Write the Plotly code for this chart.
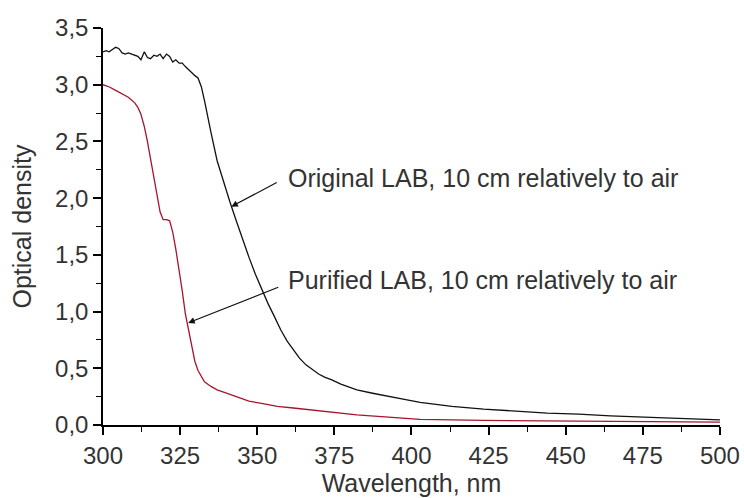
import plotly.graph_objects as go

# Absorption spectra of LAB, 10 cm cell, measured against air
wl_original = [300, 301, 302, 303.1, 304.1, 305.1, 306.2, 307.2, 308.2, 309.3, 310.3,
               311.3, 312.3, 313.4, 314.4, 315.4, 316.5, 317.5, 318.5, 319.5, 320.6,
               321.6, 322.6, 323.6, 324.7, 325.7, 326.7, 327.8, 328.8, 329.8, 330.8,
               331.9, 332.9, 333.9, 335.0, 337.0, 339.1, 341.1, 343.2, 345.2, 347.3,
               349.4, 351.4, 353.5, 355.5, 357.6, 359.7, 361.7, 363.7, 365.8, 367.9,
               369.9, 372.0, 374.0, 377.1, 382.3, 387.4, 392.5, 397.7, 402.8, 413.1,
               423.4, 428.5, 433.7, 444.0, 454.2, 464.5, 479.9, 495.4, 500]
od_original = [3.29, 3.30, 3.29, 3.31, 3.33, 3.32, 3.28, 3.27, 3.28, 3.27, 3.26, 3.25,
               3.22, 3.29, 3.24, 3.23, 3.26, 3.25, 3.27, 3.23, 3.27, 3.25, 3.20, 3.22,
               3.19, 3.19, 3.16, 3.13, 3.11, 3.08, 3.06, 2.98, 2.86, 2.72, 2.58, 2.33,
               2.14, 1.97, 1.80, 1.64, 1.48, 1.33, 1.20, 1.07, 0.96, 0.84, 0.74, 0.66,
               0.59, 0.53, 0.485, 0.45, 0.42, 0.40, 0.36, 0.31, 0.28, 0.25, 0.225, 0.20,
               0.165, 0.14, 0.13, 0.12, 0.105, 0.095, 0.08, 0.065, 0.05, 0.045]

wl_purified = [300, 302.1, 304.1, 306.2, 308.2, 310.3, 311.3, 312.3, 313.4, 314.4,
               315.4, 316.5, 317.5, 318.5, 319.5, 320.6, 321.6, 322.6, 323.6, 324.7,
               325.7, 326.7, 327.8, 328.8, 329.8, 330.8, 331.9, 332.9, 335.0, 337.0,
               339.1, 342.2, 347.3, 351.4, 356.5, 361.7, 372.0, 377.1, 382.3, 392.5,
               402.8, 423.4, 444.0, 464.5, 485.1, 500]
od_purified = [3.00, 2.98, 2.95, 2.92, 2.89, 2.84, 2.80, 2.74, 2.63, 2.50, 2.35, 2.20,
               2.04, 1.88, 1.81, 1.81, 1.80, 1.70, 1.55, 1.37, 1.18, 0.98, 0.82, 0.68,
               0.56, 0.48, 0.42, 0.38, 0.34, 0.31, 0.29, 0.26, 0.21, 0.19, 0.165, 0.15,
               0.12, 0.10, 0.09, 0.07, 0.05, 0.04, 0.035, 0.03, 0.025, 0.025]

x_ticks = [300, 325, 350, 375, 400, 425, 450, 475, 500]
y_ticks = [0.0, 0.5, 1.0, 1.5, 2.0, 2.5, 3.0, 3.5]
y_tick_text = [f"{v:.1f}".replace(".", ",") for v in y_ticks]

label_original = "Original LAB, 10 cm relatively to air"
label_purified = "Purified LAB, 10 cm relatively to air"

FONT = "Liberation Sans, Arial, sans-serif"
TEXT = "#333333"

fig = go.Figure()
fig.add_trace(go.Scatter(x=wl_original, y=od_original, mode="lines",
                         line=dict(color="#111111", width=1.3), showlegend=False))
fig.add_trace(go.Scatter(x=wl_purified, y=od_purified, mode="lines",
                         line=dict(color="#a5152e", width=1.3), showlegend=False))

# Callout arrows pointing to each curve, with the labels to their right
arrows = [
    dict(tip=(341.6, 1.925), tail=(356.8, 2.145)),
    dict(tip=(327.6, 0.90), tail=(357.3, 1.22)),
]
for a in arrows:
    fig.add_annotation(x=a["tip"][0], y=a["tip"][1], ax=a["tail"][0], ay=a["tail"][1],
                       xref="x", yref="y", axref="x", ayref="y", text="",
                       showarrow=True, arrowhead=2, arrowsize=1.1, arrowwidth=1.2,
                       arrowcolor="#111111")

for label, y in [(label_original, 2.175), (label_purified, 1.279)]:
    fig.add_annotation(x=359.2, y=y, xref="x", yref="y", text=label, showarrow=False,
                       xanchor="left", yanchor="middle",
                       font=dict(family=FONT, size=25, color=TEXT))

axis_common = dict(showline=True, linecolor="#000000", linewidth=1.5, ticks="outside",
                   ticklen=8, tickwidth=1.5, tickcolor="#000000", showgrid=False,
                   zeroline=False, mirror=False, ticklabeloverflow="allow",
                   automargin=False,
                   tickfont=dict(family=FONT, size=24, color=TEXT))

fig.update_xaxes(range=[300, 500.02], tickvals=x_ticks,
                 minor=dict(ticks="outside", ticklen=5, tickwidth=1.3,
                            tickcolor="#000000", dtick=12.5, tick0=300, showgrid=False),
                 title=dict(text="Wavelength, nm", standoff=2,
                            font=dict(family=FONT, size=25, color=TEXT)),
                 **axis_common)
fig.update_yaxes(range=[0, 3.5], tickvals=y_ticks, ticktext=y_tick_text,
                 minor=dict(ticks="outside", ticklen=5, tickwidth=1.3,
                            tickcolor="#000000", dtick=0.25, tick0=0, showgrid=False),
                 title=dict(text="Optical density", standoff=16,
                            font=dict(family=FONT, size=25, color=TEXT)),
                 **axis_common)

fig.update_layout(width=744, height=498, margin=dict(l=103, r=24, t=28, b=73),
                  paper_bgcolor="white", plot_bgcolor="white")

fig.write_html("out.html")
